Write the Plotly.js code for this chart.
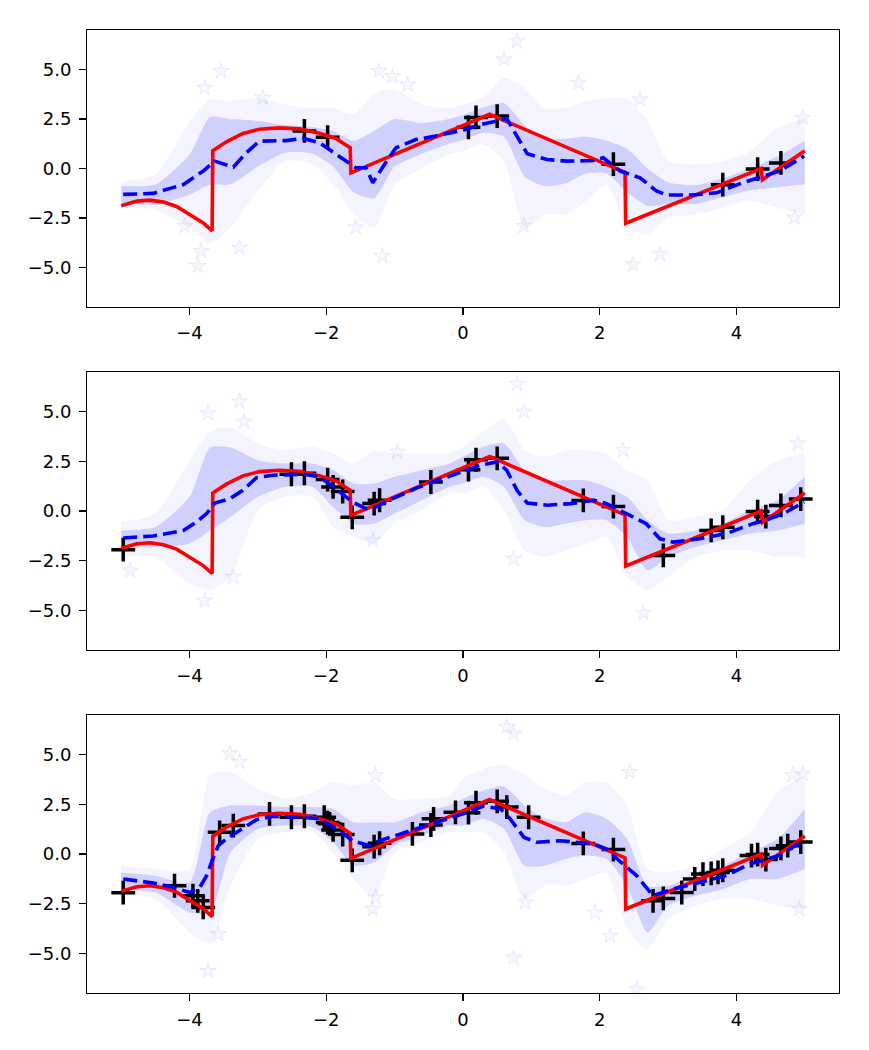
<!DOCTYPE html>
<html>
<head>
<meta charset="utf-8">
<script src="https://cdn.plot.ly/plotly-3.0.1.min.js"></script>
<style>html,body{margin:0;padding:0;background:#fff}</style>
</head>
<body>
<div id="chart" style="width:869px;height:1050px"></div>
<script>
// ---------- data ----------
// true function (red)
const trueX = [-5.0,-4.88,-4.77,-4.58,-4.38,-4.19,-4.0,-3.8,-3.67,-3.66,-3.46,-3.22,-2.98,-2.69,-2.39,-2.1,-1.86,-1.65,-1.64,0.39,2.37,2.38,4.36,4.38,5.0];
const trueY = [-1.88,-1.74,-1.65,-1.6,-1.7,-1.92,-2.3,-2.75,-3.15,0.9,1.35,1.77,1.98,2.05,2.0,1.78,1.52,1.05,-0.22,2.74,-0.2,-2.77,0.0,-0.57,0.9];

// predictive mean (blue dashed)
const meanX1 = [-4.97,-4.53,-4.09,-3.80,-3.63,-3.36,-3.17,-2.98,-2.59,-2.34,-2.10,-1.81,-1.57,-1.42,-1.32,-1.18,-0.98,-0.69,-0.40,0.04,0.26,0.64,0.77,0.94,1.23,1.52,1.91,2.05,2.30,2.59,2.83,2.98,3.36,3.71,4.09,4.38,4.63,4.99];
const meanY1 = [-1.31,-1.26,-0.81,-0.13,0.37,0.07,0.79,1.38,1.41,1.52,1.30,0.63,0.04,0.04,-0.72,0.04,1.05,1.46,1.64,1.97,2.22,2.52,1.72,0.74,0.45,0.37,0.40,0.54,-0.13,-0.47,-1.14,-1.34,-1.34,-1.23,-0.72,-0.38,-0.13,0.63];
const meanX2 = [-4.97,-4.53,-4.09,-3.90,-3.75,-3.63,-3.41,-3.22,-3.02,-2.78,-2.34,-2.10,-1.86,-1.62,-1.42,-1.28,-1.03,-0.64,0.0,0.26,0.50,0.64,0.79,0.94,1.23,1.57,1.91,2.10,2.39,2.68,2.88,3.07,3.46,3.85,4.24,4.43,4.73,4.99];
const meanY2 = [-1.36,-1.26,-0.98,-0.56,-0.13,0.40,0.62,1.04,1.68,1.80,1.85,1.72,1.13,0.45,0.12,0.20,0.62,1.21,1.99,2.31,2.47,2.05,1.04,0.40,0.29,0.37,0.54,0.37,-0.13,-0.64,-1.40,-1.57,-1.40,-1.14,-0.64,-0.47,-0.05,0.45];
const meanX3 = [-4.97,-4.53,-4.24,-4.00,-3.85,-3.75,-3.66,-3.58,-3.46,-3.27,-3.02,-2.78,-2.34,-2.10,-1.81,-1.62,-1.37,-1.22,-0.98,-0.64,0.0,0.30,0.55,0.69,0.89,1.08,1.42,1.91,2.10,2.34,2.54,2.78,3.07,3.46,3.85,4.19,4.38,4.63,4.92];
const meanY3 = [-1.26,-1.46,-1.68,-1.94,-1.68,-1.09,-0.25,0.42,0.76,1.18,1.73,1.90,1.85,1.77,1.18,0.67,0.42,0.67,0.93,1.30,2.02,2.41,2.27,1.77,0.84,0.59,0.67,0.51,0.25,-0.51,-1.09,-2.10,-1.77,-1.43,-1.09,-0.51,-0.34,-0.08,0.56];

// training points (black +)
const trainX1 = [-2.32,-1.98,0.08,0.19,0.50,2.20,3.80,4.31,4.65];
const trainY1 = [1.90,1.58,2.08,2.58,2.65,0.22,-0.82,-0.03,0.28];
const trainX2 = [-2.32,-1.98,0.08,0.19,0.50,2.20,3.80,4.31,4.65,-4.97,-2.51,-1.90,-1.76,-1.62,-1.30,-1.22,-0.47,1.76,2.93,3.63,4.43,4.94];
const trainY2 = [1.90,1.58,2.08,2.58,2.65,0.22,-0.82,-0.03,0.28,-1.95,1.85,1.21,0.98,-0.32,0.37,0.54,1.46,0.53,-2.24,-0.98,-0.28,0.60];
const trainX3 = [-2.32,-1.98,0.08,0.19,0.50,2.20,3.80,4.31,4.65,-4.97,-2.51,-1.90,-1.76,-1.62,-1.30,-1.22,-0.47,1.76,2.93,3.63,4.43,4.94,-4.22,-3.95,-3.88,-3.80,-3.56,-3.36,-2.83,-2.03,-1.95,-0.74,-0.43,-0.11,0.64,0.96,2.78,3.20,3.39,3.51,3.73,4.22,4.75];
const trainY3 = [1.90,1.58,2.08,2.58,2.65,0.22,-0.82,-0.03,0.28,-1.95,1.85,1.21,0.98,-0.32,0.37,0.54,1.46,0.53,-2.24,-0.98,-0.28,0.60,-1.60,-2.10,-2.36,-2.69,1.09,1.43,2.02,1.85,1.52,1.01,1.77,2.10,2.36,1.85,-2.36,-1.94,-1.26,-1.01,-0.93,-0.08,0.42];

// sample cloud (faint blue stars): envelope of the haze and of its dense core
const cloudX = [-5,-4.5,-4,-3.7,-3.4,-3,-2.6,-2.2,-1.9,-1.6,-1.3,-1,-0.6,-0.2,0,0.3,0.6,0.9,1.2,1.5,1.8,2.1,2.4,2.7,3,3.4,3.8,4.2,4.6,5];
const outerHi1 = [-0.64,-0.30,2.39,3.5,3.40,3.57,3.23,3.06,3.06,2.73,3.8,4.0,3.23,3.06,3.23,3.6,4.6,4.07,3.06,3.06,3.40,3.57,3.5,2.39,0.37,0.20,0.37,0.88,2.05,2.56];
const outerLo1 = [-1.99,-2.07,-3.0,-3.8,-3.0,-1.14,0.37,0.20,-0.81,-2.32,-3.0,-0.81,0.03,0.71,0.88,1.21,0.37,-3.0,-2.32,-2.32,-1.65,-0.81,-3.0,-3.33,-2.49,-2.32,-1.99,-1.65,-1.99,-2.32];
const coreHi1 = [-0.89,-0.81,0.71,2.6,2.5,2.4,2.2,2.1,1.9,1.4,1.9,2.5,2.3,2.5,2.7,3.1,3.3,2.2,1.5,1.5,1.6,1.4,1.0,0.0,-0.7,-0.85,-0.5,0.0,0.6,1.4];
const coreLo1 = [-1.73,-1.82,-1.31,-0.81,-0.8,0.1,0.8,0.75,0.1,-1.2,-1.5,0.1,0.75,1.25,1.45,1.8,1.6,-0.4,-0.9,-0.75,-0.25,-0.25,-1.2,-1.9,-1.8,-1.8,-1.45,-1.1,-0.95,-0.8];
const outerHi2 = [-0.56,-0.13,2.56,4.0,4.2,3.40,3.06,3.23,2.90,2.39,3.06,2.90,2.90,2.90,3.23,4.0,4.6,3.06,2.73,3.06,3.06,2.90,2.05,1.55,-0.47,-0.30,0.03,1.55,2.56,2.90];
const outerLo2 = [-2.32,-2.32,-3.67,-4.0,-3.33,0.03,0.71,0.71,-0.81,-1.31,-1.65,-0.64,0.03,0.88,0.88,1.21,0.03,-1.99,-2.32,-1.99,-1.65,-1.31,-3.33,-4.0,-3.33,-2.32,-1.99,-1.99,-2.32,-2.32];
const coreHi2 = [-0.98,-0.81,0.71,3.2,3.2,2.56,2.39,2.39,2.05,1.38,1.38,1.72,2.05,2.39,2.73,3.23,3.4,2.05,1.55,1.55,1.55,1.21,0.71,-0.47,-1.14,-0.98,-0.64,0.03,0.54,1.72];
const coreLo2 = [-1.82,-1.82,-1.65,-0.98,-0.30,0.71,1.21,1.21,0.20,-0.64,-0.64,-0.13,0.54,1.21,1.38,1.72,1.21,-0.47,-0.81,-0.64,-0.47,-0.47,-1.31,-3.0,-2.32,-1.82,-1.48,-1.14,-0.98,-0.64];
const outerHi3 = [-0.59,-0.76,-0.76,4.0,4.12,3.28,2.78,3.11,3.62,3.45,3.6,2.78,2.78,2.95,3.79,4.3,4.5,4.0,3.28,2.95,3.6,3.6,2.44,-0.76,-0.93,-0.59,0.25,1.09,3.11,3.96];
const outerLo3 = [-2.02,-2.27,-3.96,-4.5,-1.60,0.76,1.09,1.09,0.08,-1.26,-2.2,0.08,0.59,1.09,1.09,1.09,0.08,-2.27,-1.60,-1.60,-1.26,-0.93,-3.79,-4.8,-3.28,-2.61,-2.27,-2.27,-2.61,-2.78];
const coreHi3 = [-0.93,-1.09,-1.43,2.10,2.44,2.44,2.36,2.36,2.27,1.60,1.60,1.60,2.10,2.44,2.78,3.2,3.4,2.44,1.77,1.60,2.10,1.77,0.76,-1.60,-1.60,-1.09,-0.59,0.08,0.76,2.27];
const coreLo3 = [-1.77,-1.94,-2.95,-2.95,0.08,1.26,1.43,1.35,0.59,-0.59,-0.42,0.42,0.93,1.43,1.43,1.77,1.26,-0.59,-0.59,-0.25,-0.08,-0.25,-1.60,-3.96,-2.61,-2.10,-1.77,-1.26,-1.26,-0.76];

// isolated stars visible outside the haze
const starX1 = [-3.54,-3.78,-3.88,-3.83,-3.27,-4.07,-1.23,-1.03,-0.81,-1.18,-1.57,-2.93,0.79,0.60,1.69,2.59,2.49,2.88,0.89,4.97,4.85];
const starY1 = [4.92,4.07,-4.93,-4.18,-4.01,-2.91,4.92,4.66,4.24,-4.43,-2.98,3.57,6.43,5.51,4.33,3.48,-4.85,-4.34,-2.91,2.56,-2.49];
const starX2 = [-3.27,-3.73,-3.20,-3.78,-3.36,-4.87,-0.96,-1.32,0.79,0.89,2.64,4.90,2.34,0.74];
const starY2 = [5.51,4.92,4.50,-4.51,-3.33,-3.0,2.98,-1.48,6.40,5.0,-5.15,3.40,3.06,-2.41];
const starX3 = [-3.41,-3.27,-3.73,-3.58,-1.28,-1.32,-1.28,0.64,0.74,0.74,0.91,2.54,2.15,1.93,2.44,4.82,4.97,4.92];
const starY3 = [5.05,4.63,-5.89,-4.04,3.96,-2.78,-2.19,6.40,6.06,-5.22,-2.44,-6.82,-4.12,-2.95,4.12,3.96,4.04,-2.78];

// axis ticks
const xTickVals = [-4,-2,0,2,4];
const xTickText = ['\u22124','\u22122','0','2','4'];
const yTickVals = [-5,-2.5,0,2.5,5];
const yTickText = ['\u22125.0','\u22122.5','0.0','2.5','5.0'];

// ---------- build figure ----------
const panels = [
  {xa:'x', ya:'y', mx:meanX1, my:meanY1, tx:trainX1, ty:trainY1, oh:outerHi1, ol:outerLo1, ch:coreHi1, cl:coreLo1, sx:starX1, sy:starY1},
  {xa:'x2', ya:'y2', mx:meanX2, my:meanY2, tx:trainX2, ty:trainY2, oh:outerHi2, ol:outerLo2, ch:coreHi2, cl:coreLo2, sx:starX2, sy:starY2},
  {xa:'x3', ya:'y3', mx:meanX3, my:meanY3, tx:trainX3, ty:trainY3, oh:outerHi3, ol:outerLo3, ch:coreHi3, cl:coreLo3, sx:starX3, sy:starY3}
];

const traces = [];
const band = {shape:'spline', smoothing:0.6, width:0};
panels.forEach(p => {
  traces.push({x:cloudX, y:p.ol, xaxis:p.xa, yaxis:p.ya, type:'scatter', mode:'lines', line:Object.assign({color:'rgba(0,0,255,0)'},band), hoverinfo:'skip', showlegend:false});
  traces.push({x:cloudX, y:p.oh, xaxis:p.xa, yaxis:p.ya, type:'scatter', mode:'lines', fill:'tonexty', fillcolor:'rgba(70,70,255,0.06)', line:Object.assign({color:'rgba(0,0,255,0)'},band), hoverinfo:'skip', showlegend:false});
  traces.push({x:cloudX, y:p.cl, xaxis:p.xa, yaxis:p.ya, type:'scatter', mode:'lines', line:Object.assign({color:'rgba(0,0,255,0)'},band), hoverinfo:'skip', showlegend:false});
  traces.push({x:cloudX, y:p.ch, xaxis:p.xa, yaxis:p.ya, type:'scatter', mode:'lines', fill:'tonexty', fillcolor:'rgba(30,30,255,0.17)', line:Object.assign({color:'rgba(0,0,255,0)'},band), hoverinfo:'skip', showlegend:false});
  traces.push({x:p.sx, y:p.sy, xaxis:p.xa, yaxis:p.ya, type:'scatter', mode:'markers',
    marker:{symbol:'star', size:12, color:'rgba(0,0,255,0.03)', line:{color:'rgba(0,0,255,0.08)', width:1}}, showlegend:false});
  traces.push({x:p.tx, y:p.ty, xaxis:p.xa, yaxis:p.ya, type:'scatter', mode:'markers',
    marker:{symbol:'cross-thin-open', size:17, color:'black', line:{color:'black', width:3.5}}, showlegend:false});
  traces.push({x:trueX, y:trueY, xaxis:p.xa, yaxis:p.ya, type:'scatter', mode:'lines', line:{color:'rgb(255,0,0)', width:3.6}, showlegend:false});
  traces.push({x:p.mx, y:p.my, xaxis:p.xa, yaxis:p.ya, type:'scatter', mode:'lines', line:{color:'rgb(0,0,255)', width:3.6, dash:'14px,6px'}, showlegend:false});
});

const font = {family:'DejaVu Sans, sans-serif', size:18, color:'black'};
function xax(anchor){
  return {anchor:anchor, domain:[0,1], range:[-5.5,5.5], tickvals:xTickVals, ticktext:xTickText,
    showgrid:false, zeroline:false, showline:true, mirror:true, linecolor:'black', linewidth:1.4,
    ticks:'outside', ticklen:6.5, tickwidth:1.4, tickcolor:'black', tickfont:font, ticklabelstandoff:3};
}
function yax(anchor, dom){
  return {anchor:anchor, domain:dom, range:[-7,7], tickvals:yTickVals, ticktext:yTickText,
    showgrid:false, zeroline:false, showline:true, mirror:true, linecolor:'black', linewidth:1.4,
    ticks:'outside', ticklen:6.5, tickwidth:1.4, tickcolor:'black', tickfont:font, ticklabelstandoff:4};
}
const layout = {
  width:869, height:1050,
  margin:{l:87, r:30, t:30, b:57},
  paper_bgcolor:'white', plot_bgcolor:'white',
  showlegend:false,
  xaxis:xax('y'), yaxis:yax('x',[0.7124,1]),
  xaxis2:xax('y2'), yaxis2:yax('x2',[0.3562,0.6449]),
  xaxis3:xax('y3'), yaxis3:yax('x3',[0,0.2887])
};
Plotly.newPlot('chart', traces, layout, {staticPlot:true});
</script>
</body>
</html>
